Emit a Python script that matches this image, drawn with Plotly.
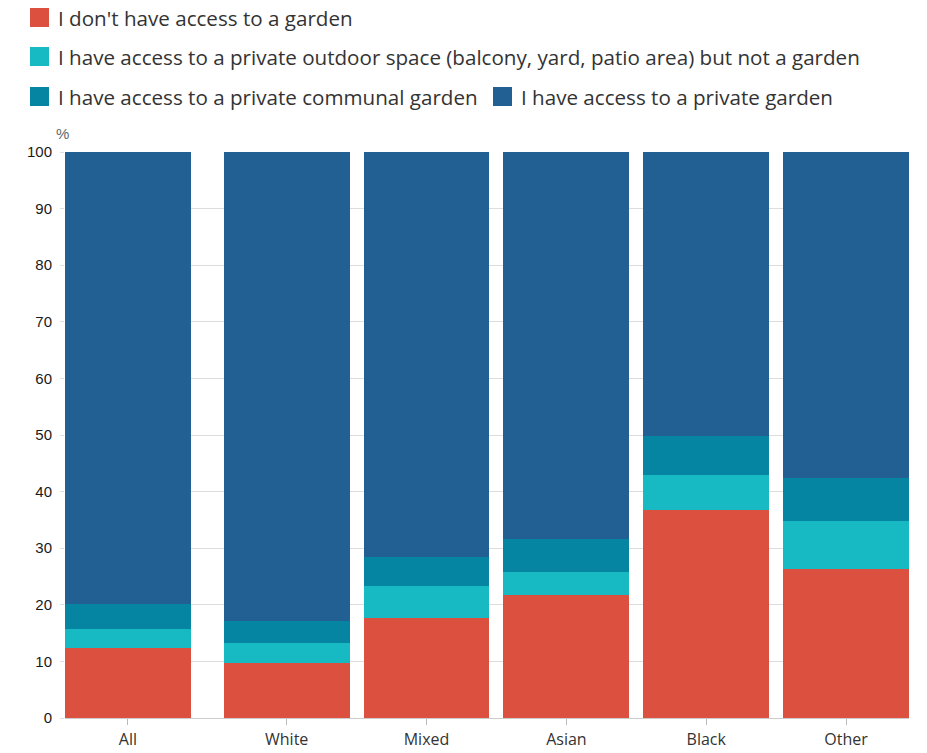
import plotly.graph_objects as go

categories = ["All", "White", "Mixed", "Asian", "Black", "Other"]
no_garden = [12.3, 9.8, 17.6, 21.7, 36.7, 26.3]
outdoor_space = [3.4, 3.5, 5.65, 4.1, 6.2, 8.5]
communal_garden = [4.4, 3.8, 5.15, 5.8, 7.0, 7.55]
private_garden = [79.9, 82.9, 71.6, 68.4, 50.1, 57.65]
series_names = [
    "I don't have access to a garden",
    "I have access to a private outdoor space (balcony, yard, patio area) but not a garden",
    "I have access to a private communal garden",
    "I have access to a private garden",
]
y_ticks = [0, 10, 20, 30, 40, 50, 60, 70, 80, 90, 100]

colors = ["#DB503F", "#17B9C3", "#0685A3", "#225F93"]
series = [no_garden, outdoor_space, communal_garden, private_garden]

W, H = 927, 753
L, R, T, B = 65, 18, 152, 35
GAP_AFTER_ALL = 0.135
xpos = [i + (GAP_AFTER_ALL if i > 0 else 0) for i in range(len(categories))]

fig = go.Figure()
for name, vals, c in zip(series_names, series, colors):
    fig.add_trace(go.Bar(x=xpos, y=vals, name=name, marker=dict(color=c, line=dict(width=0)),
                         width=0.9, showlegend=False))

def px_x(p):
    return (p - L) / (W - L - R)

def px_y(p):
    return (H - B - p) / (H - T - B)

shapes = []
annotations = []
legend_items = [(30, 18, 0), (30, 57, 1), (30, 97, 2), (493, 97, 3)]
for x0, yc, k in legend_items:
    shapes.append(dict(type="rect", xref="paper", yref="paper",
                       x0=px_x(x0), x1=px_x(x0 + 19), y0=px_y(yc - 10), y1=px_y(yc + 9),
                       fillcolor=colors[k], line=dict(width=0)))
    annotations.append(dict(xref="paper", yref="paper", x=px_x(x0 + 26), y=px_y(yc),
                            xanchor="left", yanchor="middle", showarrow=False,
                            text=series_names[k],
                            font=dict(family="Open Sans", size=20.6, color="#333333")))
annotations.append(dict(xref="paper", yref="paper", x=px_x(54), y=px_y(133),
                        xanchor="left", yanchor="middle", showarrow=False, text="%",
                        font=dict(family="Liberation Sans", size=15, color="#666666")))

fig.update_layout(
    width=W, height=H,
    margin=dict(l=L, r=R, t=T, b=B, pad=0, autoexpand=False),
    barmode="stack",
    bargap=0,
    plot_bgcolor="white", paper_bgcolor="white",
    shapes=shapes, annotations=annotations,
    xaxis=dict(range=[-0.45, xpos[-1] + 0.45], tickvals=xpos, ticktext=categories,
               automargin=False,
               showgrid=False, zeroline=False, showline=True, linecolor="#cccccc", linewidth=1,
               ticks="outside", ticklen=6, tickcolor="#bbbbbb", ticklabelstandoff=1,
               tickfont=dict(family="Open Sans", size=16, color="#333333")),
    yaxis=dict(range=[0, 100], tickvals=y_ticks, showgrid=True, gridcolor="#dddddd", gridwidth=1,
               automargin=False,
               zeroline=False, showline=False, ticks="outside", ticklen=4, tickcolor="#dddddd",
               ticklabelstandoff=5,
               tickfont=dict(family="Liberation Sans", size=15, color="#1a1a1a")),
)

fig.write_html("out.html")
